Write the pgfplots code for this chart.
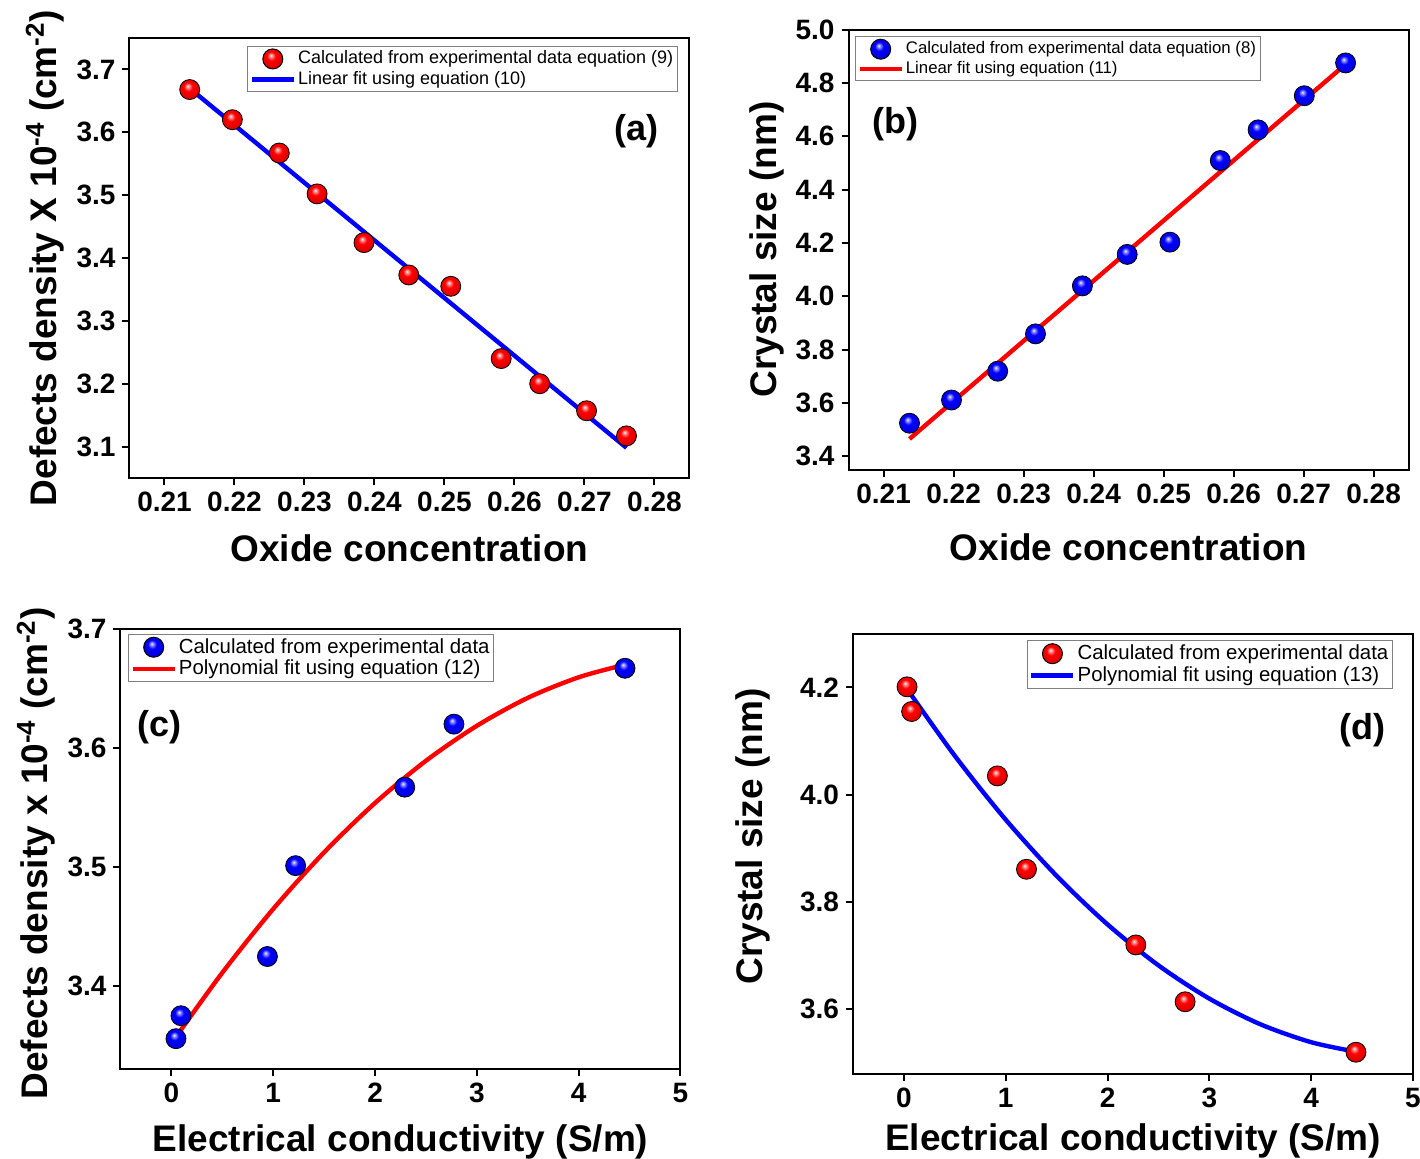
\documentclass[border=0pt]{standalone}
\usepackage{fontspec}
\setmainfont{Liberation Sans}
\usepackage{pgfplots}
\pgfplotsset{compat=1.18}
\usetikzlibrary{plotmarks}

\makeatletter
\pgfdeclareradialshading[tikz@ball]{ball}{\pgfqpoint{-5bp}{9bp}}{%
 color(0bp)=(tikz@ball!5!white);
 color(4bp)=(tikz@ball!45!white);
 color(11bp)=(tikz@ball);
 color(24bp)=(tikz@ball!88!black);
 color(32bp)=(tikz@ball!75!black);
 color(50bp)=(tikz@ball!60!black)}
\makeatother

\tikzset{plabel/.style={font=\bfseries\fontsize{18}{18}\selectfont}}

\pgfplotsset{
  panel/.style={
    scale only axis, width=280pt, height=220pt,
    axis line style={line width=1pt},
    tick align=outside, xtick pos=bottom, ytick pos=left,
    major tick length=3.5pt,
    every tick/.style={line width=1pt, black},
    scaled ticks=false,
    /pgf/number format/assume math mode=true,
    ticklabel style={font=\bfseries\fontsize{14}{14}\selectfont},
    label style={font=\bfseries\fontsize{18.5}{20}\selectfont},
    legend cell align=left,
    legend style={draw=black!50, line width=0.5pt, inner sep=1pt, row sep=0pt,
      nodes={inner sep=1pt}},
  },
  ballred/.style={only marks, mark=ball, mark size=5pt, mark options={ball color=red},
    legend image code/.code={\draw[##1] plot coordinates {(10.5pt,0pt)};}},
  ballblue/.style={only marks, mark=ball, mark size=5pt, mark options={ball color=blue},
    legend image code/.code={\draw[##1] plot coordinates {(10.5pt,0pt)};}},
  fitline/.style={no markers, line width=2.2pt,
    legend image code/.code={\draw[##1] (0pt,0pt) -- (21pt,0pt);}},
}

\begin{document}
\begin{tikzpicture}
\useasboundingbox (0,0) rectangle (710pt,-579pt);

% (a)
\begin{axis}[panel, at={(64.75pt,-19pt)}, anchor=north west,
  xmin=0.205, xmax=0.285, ymin=3.05, ymax=3.75,
  xtick={0.21,0.22,0.23,0.24,0.25,0.26,0.27,0.28},
  ytick={3.1,3.2,3.3,3.4,3.5,3.6,3.7},
  xticklabel style={/pgf/number format/fixed, /pgf/number format/fixed zerofill, /pgf/number format/precision=2},
  yticklabel style={/pgf/number format/fixed, /pgf/number format/fixed zerofill, /pgf/number format/precision=1},
  xlabel={Oxide concentration},
  ylabel={Defects density X 10\textsuperscript{-4} (cm\textsuperscript{-2})},
  xlabel style={at={(axis description cs:0.5,-0.159)}, anchor=center},
  ylabel style={at={(axis description cs:-0.151,0.5)}, anchor=center},
  legend style={at={(rel axis cs:0.979,0.982)}, anchor=north east, font=\fontsize{9}{11}\selectfont},
]
\addplot[ballred] coordinates {
(0.2136,3.668) (0.2197,3.620) (0.2264,3.567) (0.2318,3.502) (0.2385,3.4245)
(0.2449,3.373) (0.2509,3.355) (0.2581,3.240) (0.2636,3.200) (0.2703,3.157) (0.2760,3.117)};
\addlegendentry{Calculated from experimental data equation (9)}
\addplot[fitline, blue] coordinates {(0.2136,3.670) (0.2760,3.098)};
\addlegendentry{Linear fit using equation (10)}
\node[plabel] at (rel axis cs:0.906,0.789) {(a)};
\end{axis}

% (b)
\begin{axis}[panel, at={(424.3pt,-14.8pt)}, anchor=north west,
  xmin=0.205, xmax=0.285, ymin=3.35, ymax=5.0,
  xtick={0.21,0.22,0.23,0.24,0.25,0.26,0.27,0.28},
  ytick={3.4,3.6,3.8,4.0,4.2,4.4,4.6,4.8,5.0},
  xticklabel style={/pgf/number format/fixed, /pgf/number format/fixed zerofill, /pgf/number format/precision=2},
  yticklabel style={/pgf/number format/fixed, /pgf/number format/fixed zerofill, /pgf/number format/precision=1},
  xlabel={Oxide concentration},
  ylabel={Crystal size (nm)},
  xlabel style={at={(axis description cs:0.5,-0.177)}, anchor=center},
  ylabel style={at={(axis description cs:-0.146,0.5)}, anchor=center},
  legend style={at={(rel axis cs:0.0114,0.985)}, anchor=north west, font=\fontsize{8.4}{10.5}\selectfont},
]
\addplot[ballblue] coordinates {
(0.2137,3.524) (0.2197,3.611) (0.2263,3.719) (0.2317,3.859) (0.2384,4.039)
(0.2448,4.157) (0.2509,4.203) (0.2581,4.509) (0.2635,4.624) (0.2701,4.752) (0.2760,4.875)};
\addlegendentry{Calculated from experimental data equation (8)}
\addplot[fitline, red] coordinates {(0.2137,3.465) (0.2760,4.870)};
\addlegendentry{Linear fit using equation (11)}
\node[plabel] at (rel axis cs:0.083,0.785) {(b)};
\end{axis}

% (c)
\begin{axis}[panel, at={(60.25pt,-314.5pt)}, anchor=north west,
  xmin=-0.5, xmax=5, ymin=3.33, ymax=3.70,
  xtick={0,1,2,3,4,5},
  ytick={3.4,3.5,3.6,3.7},
  yticklabel style={/pgf/number format/fixed, /pgf/number format/fixed zerofill, /pgf/number format/precision=1},
  xlabel={Electrical conductivity (S/m)},
  ylabel={Defects density x 10\textsuperscript{-4} (cm\textsuperscript{-2})},
  xlabel style={at={(axis description cs:0.5,-0.165)}, anchor=center},
  ylabel style={at={(axis description cs:-0.151,0.49)}, anchor=center},
  legend style={at={(rel axis cs:0.0134,0.989)}, anchor=north west, font=\fontsize{10.2}{12.5}\selectfont},
]
\addplot[ballblue] coordinates {
(0.045,3.3555) (0.094,3.3748) (0.943,3.4246) (1.22,3.501) (2.292,3.567) (2.775,3.620) (4.455,3.667)};
\addlegendentry{Calculated from experimental data}
\addplot[fitline, red, smooth] coordinates {
(0.045,3.357) (0.5,3.411) (1,3.4646) (1.5,3.5122) (2,3.5537) (2.5,3.5892)
(3,3.6186) (3.5,3.6421) (4,3.6594) (4.455,3.670)};
\addlegendentry{Polynomial fit using equation (12)}
\node[plabel] at (rel axis cs:0.069,0.776) {(c)};
\end{axis}

% (d)
\begin{axis}[panel, at={(426.5pt,-316.85pt)}, anchor=north west,
  xmin=-0.5, xmax=5, ymin=3.48, ymax=4.30,
  xtick={0,1,2,3,4,5},
  ytick={3.6,3.8,4.0,4.2},
  yticklabel style={/pgf/number format/fixed, /pgf/number format/fixed zerofill, /pgf/number format/precision=1},
  xlabel={Electrical conductivity (S/m)},
  ylabel={Crystal size (nm)},
  xlabel style={at={(axis description cs:0.5,-0.152)}, anchor=center},
  ylabel style={at={(axis description cs:-0.179,0.539)}, anchor=center},
  legend style={at={(rel axis cs:0.964,0.985)}, anchor=north east, font=\fontsize{10.2}{12.5}\selectfont},
]
\addplot[ballred] coordinates {
(0.031,4.201) (0.076,4.155) (0.918,4.035) (1.204,3.861) (2.278,3.720) (2.762,3.614) (4.44,3.520)};
\addlegendentry{Calculated from experimental data}
\addplot[fitline, blue, smooth] coordinates {
(0.031,4.197) (0.5,4.0724) (1,3.9534) (1.5,3.8487) (2,3.7582) (2.5,3.6819)
(3,3.6199) (3.5,3.5722) (4,3.5387) (4.44,3.521)};
\addlegendentry{Polynomial fit using equation (13)}
\node[plabel] at (rel axis cs:0.91,0.78) {(d)};
\end{axis}
\end{tikzpicture}
\end{document}
